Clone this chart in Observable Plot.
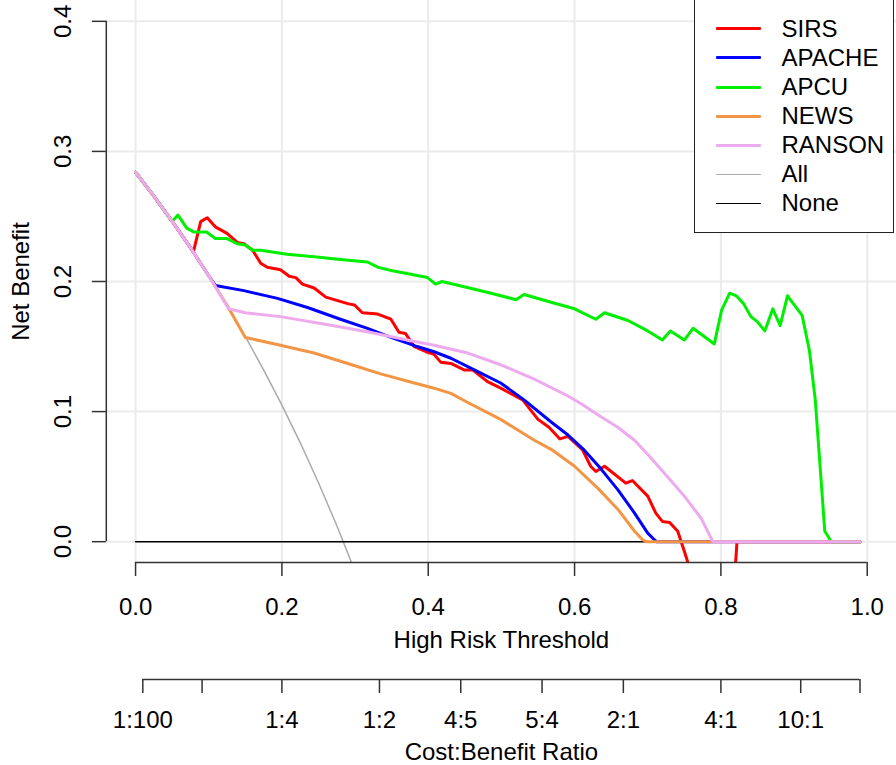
<!DOCTYPE html>
<html>
<head>
<meta charset="utf-8">
<script src="https://cdn.jsdelivr.net/npm/d3@7"></script>
<script src="https://cdn.jsdelivr.net/npm/@observablehq/plot@0.6"></script>
<style>
  html, body { margin: 0; padding: 0; background: #fff; }
  body { font-family: "Liberation Sans", Arial, sans-serif; }
  #wrap { position: relative; width: 896px; height: 765px; overflow: hidden; }
  #legend { position: absolute; left: 694px; top: -2px; width: 200px; height: 235px;
            border: 1.5px solid #222; background: #fff; box-sizing: border-box; }
  .lg-line { position: absolute; }
  .lg-text { position: absolute; font-size: 24px; line-height: 28px; color: #000; white-space: nowrap; }
</style>
</head>
<body>
<div id="wrap"></div>
<script>
// ---------------- data ----------------
const seriesNames  = ["SIRS", "APACHE", "APCU", "NEWS", "RANSON"];
const seriesColors = ["#ff0000", "#0000ff", "#00ee00", "#f29544", "#eeaaee"];

// [high risk threshold, net benefit]
const sirsPoints = [[0,0.284],[0.025,0.2656],[0.05,0.2463],[0.075,0.226],[0.079,0.2226],[0.089,0.246],[0.098,0.249],
  [0.109,0.242],[0.125,0.237],[0.139,0.230],[0.148,0.229],[0.160,0.224],[0.171,0.214],[0.180,0.211],[0.198,0.209],
  [0.210,0.204],[0.219,0.203],[0.228,0.198],[0.244,0.195],[0.260,0.188],[0.290,0.183],[0.299,0.182],[0.310,0.176],
  [0.331,0.175],[0.349,0.171],[0.360,0.161],[0.369,0.160],[0.381,0.150],[0.397,0.146],[0.408,0.144],[0.417,0.138],
  [0.431,0.137],[0.449,0.132],[0.461,0.132],[0.481,0.123],[0.499,0.118],[0.529,0.109],[0.550,0.094],[0.565,0.088],
  [0.580,0.079],[0.591,0.081],[0.611,0.0705],[0.622,0.058],[0.629,0.054],[0.641,0.058],[0.670,0.045],[0.679,0.047],
  [0.700,0.035],[0.711,0.022],[0.720,0.0156],[0.730,0.0148],[0.741,0.008],[0.750,-0.0074],[0.760,-0.025],
  [0.815,-0.06],[0.822,0],[0.99,0]];
const apachePoints = [[0,0.284],[0.025,0.2656],[0.05,0.2463],[0.075,0.226],[0.1,0.2044],[0.109,0.197],[0.148,0.193],
  [0.194,0.187],[0.235,0.180],[0.280,0.171],[0.317,0.164],[0.349,0.157],[0.385,0.150],[0.408,0.146],[0.431,0.141],
  [0.463,0.132],[0.499,0.122],[0.531,0.109],[0.568,0.092],[0.591,0.082],[0.613,0.0705],[0.636,0.056],[0.659,0.040],
  [0.682,0.022],[0.700,0.0066],[0.709,0.0015],[0.712,0],[0.99,0]];
const apcuPoints = [[0,0.284],[0.025,0.2656],[0.05,0.2463],[0.058,0.251],[0.070,0.241],[0.080,0.238],[0.097,0.238],
  [0.109,0.233],[0.125,0.233],[0.139,0.229],[0.150,0.228],[0.160,0.224],[0.171,0.224],[0.207,0.221],[0.244,0.219],
  [0.280,0.217],[0.317,0.215],[0.331,0.211],[0.353,0.208],[0.399,0.203],[0.410,0.198],[0.419,0.200],[0.449,0.196],
  [0.486,0.191],[0.520,0.186],[0.531,0.190],[0.568,0.184],[0.600,0.179],[0.629,0.171],[0.641,0.176],[0.673,0.170],
  [0.700,0.162],[0.720,0.155],[0.731,0.162],[0.750,0.155],[0.762,0.164],[0.791,0.152],[0.801,0.178],[0.812,0.191],
  [0.821,0.189],[0.831,0.183],[0.841,0.173],[0.850,0.169],[0.860,0.162],[0.871,0.179],[0.881,0.166],[0.891,0.189],
  [0.911,0.174],[0.921,0.147],[0.929,0.109],[0.942,0.008],[0.951,0],[0.99,0]];
const newsPoints = [[0,0.284],[0.025,0.2656],[0.05,0.2463],[0.075,0.226],[0.1,0.2044],[0.125,0.1817],[0.150,0.157],
  [0.198,0.151],[0.244,0.145],[0.290,0.137],[0.335,0.129],[0.381,0.122],[0.408,0.118],[0.431,0.114],[0.454,0.107],
  [0.499,0.094],[0.545,0.078],[0.568,0.071],[0.600,0.058],[0.632,0.041],[0.659,0.025],[0.682,0.008],[0.693,0.0015],
  [0.698,0],[0.99,0]];
const ransonPoints = [[0,0.284],[0.025,0.2656],[0.05,0.2463],[0.075,0.226],[0.1,0.2044],[0.127,0.179],[0.150,0.176],
  [0.198,0.173],[0.271,0.166],[0.320,0.161],[0.363,0.156],[0.408,0.151],[0.454,0.145],[0.499,0.136],[0.545,0.125],
  [0.591,0.112],[0.609,0.106],[0.636,0.096],[0.659,0.088],[0.682,0.078],[0.705,0.064],[0.730,0.048],[0.750,0.035],
  [0.773,0.018],[0.789,0],[0.99,0]];
const allPoints = [[0,0.284],[0.025,0.2656],[0.05,0.2463],[0.075,0.226],[0.1,0.2044],[0.125,0.1817],[0.15,0.1576],
  [0.175,0.1321],[0.2,0.105],[0.225,0.0762],[0.25,0.0453],[0.275,0.0124],[0.3,-0.0229]];
const nonePoints = [[0,0],[0.99,0]];

const referenceNames  = ["All", "None"];
const referenceColors = ["#aaaaaa", "#000000"];

// axes
const xTicks = [0, 0.2, 0.4, 0.6, 0.8, 1.0];
const yTicks = [0, 0.1, 0.2, 0.3, 0.4];
const cbCost    = [1, 1, 1, 1, 4, 5, 2, 4, 10, 100];
const cbBenefit = [100, 10, 4, 2, 5, 4, 1, 1, 1, 1];
const cbLabels  = ["1:100", "", "1:4", "1:2", "4:5", "5:4", "2:1", "4:1", "10:1", ""];
const xDomain = [-0.04, 1.04];
const yDomain = [-0.016, 0.416];

// ---------------- chart ----------------
const seriesPoints = [sirsPoints, apachePoints, apcuPoints, newsPoints, ransonPoints];
const cbTicks = cbCost.map((c, i) => c / (c + cbBenefit[i]));
const cbLabelMap = new Map(cbTicks.map((t, i) => [t, cbLabels[i]]));
const fmt1 = d3.format(".1f");
const axisColor = "#333";
const lineOpts = (color, w) => ({x: d => d[0], y: d => d[1], stroke: color, strokeWidth: w,
  strokeLinejoin: "round", strokeLinecap: "round", clip: true});

const chart = Plot.plot({
  width: 896, height: 765,
  marginLeft: 105.8, marginRight: 0, marginTop: 0, marginBottom: 203,
  style: {fontFamily: '"Liberation Sans", Arial, sans-serif', fontSize: "24px", background: "#fff", color: "#000"},
  x: {domain: xDomain},
  y: {domain: yDomain},
  marks: [
    Plot.gridX(xTicks, {stroke: "#ebebeb", strokeOpacity: 1, strokeWidth: 2}),
    Plot.gridY(yTicks, {stroke: "#ebebeb", strokeOpacity: 1, strokeWidth: 2}),
    Plot.line(allPoints, lineOpts(referenceColors[0], 1.5)),
    Plot.line(nonePoints, lineOpts(referenceColors[1], 1.5)),
    ...seriesPoints.map((pts, i) => Plot.line(pts, lineOpts(seriesColors[i], 3))),
    // bottom axis: high risk threshold
    Plot.ruleY([yDomain[0]], {x1: xTicks[0], x2: xTicks[xTicks.length - 1], stroke: axisColor, strokeWidth: 1.5}),
    Plot.axisX(xTicks, {tickSize: 14, tickPadding: 21, fontSize: 24, tickFormat: fmt1, label: null,
      stroke: axisColor, strokeWidth: 1.5, fill: "#000"}),
    Plot.text(["High Risk Threshold"], {text: d => d, frameAnchor: "bottom", lineAnchor: "top", dy: 68, fontSize: 24}),
    // second axis: cost:benefit ratio
    Plot.ruleY([yDomain[0]], {x1: cbTicks[0], x2: cbTicks[cbTicks.length - 1], dy: 117, stroke: axisColor, strokeWidth: 1.5}),
    Plot.axisX(cbTicks, {dy: 117, tickSize: 14, tickPadding: 17, fontSize: 24, tickFormat: d => cbLabelMap.get(d),
      label: null, stroke: axisColor, strokeWidth: 1.5, fill: "#000"}),
    Plot.text(["Cost:Benefit Ratio"], {text: d => d, frameAnchor: "bottom", lineAnchor: "top", dy: 180, fontSize: 24}),
    // left axis
    Plot.ruleX([xDomain[0]], {y1: yTicks[0], y2: yTicks[yTicks.length - 1], stroke: axisColor, strokeWidth: 1.5}),
    Plot.axisY(yTicks, {tickSize: 14, tickRotate: -90, tickPadding: 21, fontSize: 24, tickFormat: fmt1, label: null,
      stroke: axisColor, strokeWidth: 1.5, fill: "#000"}),
    Plot.text(["Net Benefit"], {text: d => d, frameAnchor: "left", rotate: -90, textAnchor: "middle",
      lineAnchor: "bottom", dx: -77, fontSize: 24})
  ]
});

const wrap = document.getElementById("wrap");
wrap.appendChild(chart);

// ---------------- legend ----------------
const legend = document.createElement("div");
legend.id = "legend";
wrap.appendChild(legend);
const legendNames  = [...seriesNames, ...referenceNames];
const legendColors = [...seriesColors, ...referenceColors];
const legendWidths = [...seriesNames.map(() => 3), ...referenceNames.map(() => 1.5)];
const legLeft = 694, legTop = -2;
legendNames.forEach((name, i) => {
  const cy = 29.3 + i * 29.1 - legTop - 1.5;
  const ln = document.createElement("div");
  ln.className = "lg-line";
  ln.style.left = (716 - legLeft - 1.5) + "px";
  ln.style.width = "45px";
  ln.style.height = legendWidths[i] + "px";
  ln.style.top = (cy - legendWidths[i] / 2) + "px";
  ln.style.background = legendColors[i];
  ln.style.borderRadius = "1px";
  legend.appendChild(ln);
  const tx = document.createElement("div");
  tx.className = "lg-text";
  tx.style.left = (782 - legLeft - 1.5) + "px";
  tx.style.top = (cy - 14) + "px";
  tx.textContent = name;
  legend.appendChild(tx);
});
</script>
</body>
</html>
